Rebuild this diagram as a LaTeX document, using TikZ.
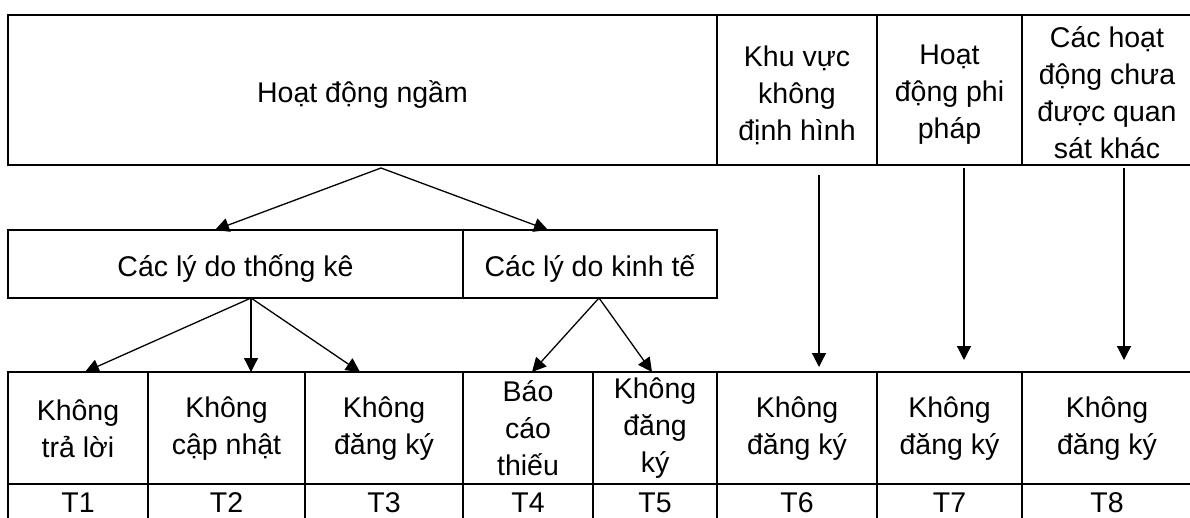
\documentclass[tikz,border=0pt]{standalone}
\usepackage{fontspec}
\setmainfont{Liberation Sans}
\usetikzlibrary{arrows.meta}
\begin{document}
\begin{tikzpicture}[x=1pt,y=-1pt,
  cell/.style={draw, line width=2pt, inner sep=0pt, outer sep=0pt},
  txt/.style={inner sep=0pt, align=center, font=\fontsize{28.5}{37}\selectfont},
  arr/.style={line width=1.3pt, -{Triangle[length=14pt,width=14pt]}}]
\useasboundingbox (0,0) rectangle (1190,518);
\fill[white] (0,0) rectangle (1190,518);
\clip (0,0) rectangle (1190,518);
% top row
\node[cell, minimum width=709pt, minimum height=150pt] (top1) at (362.5,90) {};
\node[cell, minimum width=160pt, minimum height=150pt] (top2) at (797,90) {};
\node[cell, minimum width=145pt, minimum height=150pt] (top3) at (949.5,90) {};
\node[cell, minimum width=170pt, minimum height=150pt] (top4) at (1107,90) {};
\node[txt] (top1t) at (362.5,95) {Hoạt động ngầm};
\node[txt] (top2t) at (797,95) {Khu vực\\không\\định hình};
\node[txt] (top3t) at (949.5,95) {Hoạt\\động phi\\pháp};
\node[txt] (top4t) at (1107,93) {Các hoạt\\động chưa\\được quan\\sát khác};
% middle row
\node[cell, minimum width=455pt, minimum height=68pt] (stat) at (235.5,264) {};
\node[cell, minimum width=254pt, minimum height=68pt] (econ) at (590,264) {};
\node[txt] (statt) at (235.5,269) {Các lý do thống kê};
\node[txt] (econt) at (590,269) {Các lý do kinh tế};
% bottom row
\node[cell, minimum width=140pt, minimum height=112pt] (b1) at (78,428) {};
\node[cell, minimum width=157pt, minimum height=112pt] (b2) at (226.5,428) {};
\node[cell, minimum width=158pt, minimum height=112pt] (b3) at (384,428) {};
\node[cell, minimum width=130pt, minimum height=112pt] (b4) at (528,428) {};
\node[cell, minimum width=124pt, minimum height=112pt] (b5) at (655,428) {};
\node[cell, minimum width=160pt, minimum height=112pt] (b6) at (797,428) {};
\node[cell, minimum width=145pt, minimum height=112pt] (b7) at (949.5,428) {};
\node[cell, minimum width=170pt, minimum height=112pt] (b8) at (1107,428) {};
\node[txt] (b1t) at (78,429) {Không\\trả lời};
\node[txt] (b2t) at (226.5,429) {Không\\cập nhật};
\node[txt] (b3t) at (384,429) {Không\\đăng ký};
\node[txt] (b4t) at (528,428) {Báo\\cáo\\thiếu};
\node[txt] (b5t) at (655,428) {Không\\đăng\\ký};
\node[txt] (b6t) at (797,429) {Không\\đăng ký};
\node[txt] (b7t) at (949.5,429) {Không\\đăng ký};
\node[txt] (b8t) at (1107,429) {Không\\đăng ký};
% T row
\node[cell, minimum width=140pt, minimum height=41pt] (t1) at (78,504.5) {};
\node[cell, minimum width=157pt, minimum height=41pt] (t2) at (226.5,504.5) {};
\node[cell, minimum width=158pt, minimum height=41pt] (t3) at (384,504.5) {};
\node[cell, minimum width=130pt, minimum height=41pt] (t4) at (528,504.5) {};
\node[cell, minimum width=124pt, minimum height=41pt] (t5) at (655,504.5) {};
\node[cell, minimum width=160pt, minimum height=41pt] (t6) at (797,504.5) {};
\node[cell, minimum width=145pt, minimum height=41pt] (t7) at (949.5,504.5) {};
\node[cell, minimum width=170pt, minimum height=41pt] (t8) at (1107,504.5) {};
\node[txt] (t1t) at (78,503) {T1};
\node[txt] (t2t) at (226.5,503) {T2};
\node[txt] (t3t) at (384,503) {T3};
\node[txt] (t4t) at (528,503) {T4};
\node[txt] (t5t) at (655,503) {T5};
\node[txt] (t6t) at (797,503) {T6};
\node[txt] (t7t) at (949.5,503) {T7};
\node[txt] (t8t) at (1107,503) {T8};
% arrows
\draw[arr] ([xshift=18.5pt,yshift=-3pt]top1.south) -- ([xshift=-20.5pt]stat.north);
\draw[arr] ([xshift=18.5pt,yshift=-3pt]top1.south) -- ([xshift=-42pt]econ.north);
\draw[arr] ([xshift=15.5pt]stat.south) -- ([xshift=7pt]b1.north);
\draw[arr] ([xshift=15.5pt]stat.south) -- ([xshift=24.5pt]b2.north);
\draw[arr] ([xshift=15.5pt]stat.south) -- ([xshift=-24pt]b3.north);
\draw[arr] ([xshift=9pt]econ.south) -- ([xshift=4pt]b4.north);
\draw[arr] ([xshift=9pt]econ.south) -- ([xshift=-3pt]b5.north);
\draw[arr] ([xshift=22pt,yshift=-10pt]top2.south) -- ([xshift=22pt,yshift=5pt]b6.north);
\draw[arr] ([xshift=14.5pt,yshift=-3pt]top3.south) -- ([xshift=14.5pt,yshift=12pt]b7.north);
\draw[arr] ([xshift=17pt,yshift=-3pt]top4.south) -- ([xshift=17pt,yshift=12pt]b8.north);
\end{tikzpicture}
\end{document}
